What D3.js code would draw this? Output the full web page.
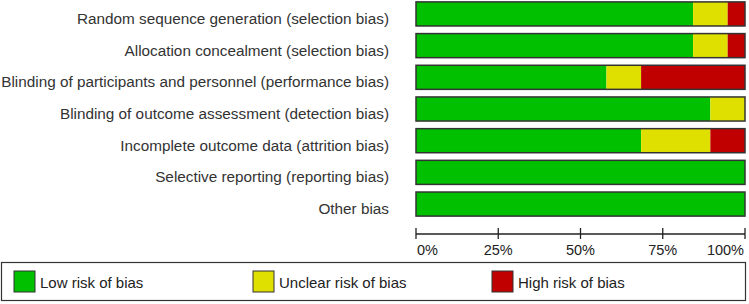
<!DOCTYPE html>
<html>
<head>
<meta charset="utf-8">
<script src="https://cdn.jsdelivr.net/npm/d3@7"></script>
<style>
  body { margin: 0; background: #fff; }
  svg { display: block; font-family: "Liberation Sans", Arial, sans-serif; }
</style>
</head>
<body>
<svg id="chart" width="749" height="304"></svg>
<script>
// risk of bias domains, counts out of 19 studies
const domains = [
    'Random sequence generation (selection bias)',
    'Allocation concealment (selection bias)',
    'Blinding of participants and personnel (performance bias)',
    'Blinding of outcome assessment (detection bias)',
    'Incomplete outcome data (attrition bias)',
    'Selective reporting (reporting bias)',
    'Other bias'
]
const lowRisk = [16, 16, 11, 17, 13, 19, 19]
const unclearRisk = [2, 2, 2, 2, 4, 0, 0]
const highRisk = [1, 1, 6, 0, 2, 0, 0]
const tickValues = [0, 0.25, 0.5, 0.75, 1]
const tickLabels = ['0%', '25%', '50%', '75%', '100%']
const legendLabels = ['Low risk of bias', 'Unclear risk of bias', 'High risk of bias']
const colors = ['#00c000', '#e0e000', '#c00000']

const svg = d3.select('#chart')

const x = d3.scaleLinear().domain([0, 1]).range([416, 745])
const y = d3.scaleBand().domain(domains).range([0, 218]).paddingInner(0.24).paddingOuter(0.06)

const rows = domains.map((d, i) => {
    const total = lowRisk[i] + unclearRisk[i] + highRisk[i]
    const vals = [lowRisk[i], unclearRisk[i], highRisk[i]]
    let acc = 0
    const segs = vals.map((v, k) => {
        const s = { x0: acc / total, x1: (acc + v) / total, k }
        acc += v
        return s
    }).filter(s => s.x1 > s.x0)
    return { name: d, segs }
})

const row = svg.append('g').selectAll('g')
    .data(rows)
    .join('g')
    .attr('transform', d => `translate(0, ${y(d.name)})`)

row.selectAll('rect.seg')
    .data(d => d.segs)
    .join('rect')
    .attr('class', 'seg')
    .attr('x', d => x(d.x0))
    .attr('width', d => x(d.x1) - x(d.x0))
    .attr('height', y.bandwidth())
    .attr('fill', d => colors[d.k])

row.append('rect')
    .attr('x', x(0))
    .attr('width', x(1) - x(0))
    .attr('height', y.bandwidth())
    .attr('fill', 'none')
    .attr('stroke', '#333')
    .attr('stroke-width', 1.5)

row.append('text')
    .attr('x', 389)
    .attr('y', y.bandwidth() / 2 + 10)
    .attr('text-anchor', 'end')
    .attr('font-size', 15.3)
    .attr('fill', '#333')
    .text(d => d.name)

// axis
const axisG = svg.append('g').attr('transform', 'translate(0, 234)')
axisG.append('line')
    .attr('x1', x(0)).attr('x2', x(1))
    .attr('stroke', '#222').attr('stroke-width', 1.3)
axisG.selectAll('line.tk')
    .data(tickValues)
    .join('line')
    .attr('class', 'tk')
    .attr('x1', d => x(d)).attr('x2', d => x(d))
    .attr('y1', -6).attr('y2', 5)
    .attr('stroke', '#222').attr('stroke-width', 1.3)
axisG.selectAll('text')
    .data(tickValues)
    .join('text')
    .attr('x', (d, i) => x(d) + (i === 0 ? 1 : (i === tickValues.length - 1 ? -1 : 0)))
    .attr('y', 21)
    .attr('font-size', 14.5)
    .attr('fill', '#222')
    .attr('text-anchor', (d, i) => i === 0 ? 'start' : (i === tickValues.length - 1 ? 'end' : 'middle'))
    .text((d, i) => tickLabels[i])

// legend
const legend = svg.append('g')
legend.append('rect')
    .attr('x', 1.5).attr('y', 262.5)
    .attr('width', 744).attr('height', 38)
    .attr('fill', 'none').attr('stroke', '#333').attr('stroke-width', 1.2)

const legendX = [14, 253, 492]
const item = legend.selectAll('g.item')
    .data(legendLabels)
    .join('g')
    .attr('class', 'item')
    .attr('transform', (d, i) => `translate(${legendX[i]}, 271)`)
item.append('rect')
    .attr('width', 21).attr('height', 21)
    .attr('fill', (d, i) => colors[i])
    .attr('stroke', '#333').attr('stroke-width', 1)
item.append('text')
    .attr('x', 26).attr('y', 17)
    .attr('font-size', 15)
    .attr('fill', '#222')
    .text(d => d)
</script>
</body>
</html>
